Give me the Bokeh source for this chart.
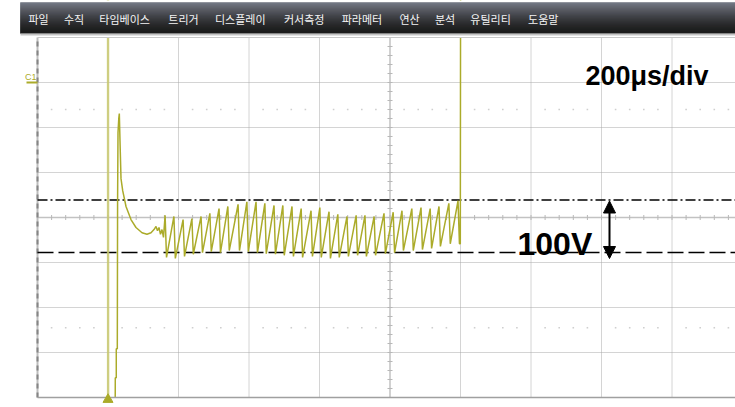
import numpy as np
from bokeh.plotting import figure
from bokeh.models import Range1d, Label, Arrow, NormalHead
from bokeh.core.properties import value
from bokeh.embed import file_html
from bokeh.resources import INLINE

# ---------------- data ----------------
menu_labels = ["파일", "수직", "타임베이스", "트리거", "디스플레이", "커서측정",
               "파라메터", "연산", "분석", "유틸리티", "도움말"]

time_per_div_us = 200          # 200 µs/div
volts_per_div = 85.7           # 100 V marker spans ~1.17 div
time_div_lines = [-200, 0, 200, 400, 600, 800, 1000, 1200, 1400, 1600, 1800]
volt_div_index = [-4, -3, -2, -1, 0, 1, 2, 3, 4]

# pre-trigger: trace above screen, falls through at the trigger instant
pre_t = [-300, 0, 0.4, 19]
pre_v = [600, 600, -600, -600]

# recovery, overshoot and decay after the trigger
ring_t = [19, 20.7, 23.5, 23.5, 26.4, 27.2, 28.4, 30.6, 32.1, 34.0, 36.9, 41.7,
          51.1, 65.2, 79.4, 96.5, 110.6, 122.0, 130.5, 136.2, 140.4, 144.7,
          148.9, 153.2, 157.4]
ring_v = [-600, -305, -305, -250, -250, 32, 162, 189, 198, 147, 74, 51,
          21, -4, -19, -29, -32, -29, -23, -17, -25, -19, -32, -23, -38]

# sawtooth ripple: tooth peaks (µs, V) and the low after each drop (V)
peak_t = [162, 187, 213, 238, 264, 289, 315, 340, 369, 394, 420, 445, 471, 496,
          522, 548, 576, 601, 627, 652, 678, 704, 729, 755, 783, 809, 834, 862,
          888, 914, 939, 967, 993]
peak_v = [4, 2, -4, -2, 2, 8, 17, 21, 25, 30, 30, 27, 23, 23, 21, 17, 13, 19,
          11, 6, 2, 4, 4, 2, 8, 10, 13, 17, 19, 17, 21, 27, 32]
trough_v = [-76, -78, -74, -70, -67, -65, -67, -63, -63, -65, -67, -69, -70,
            -72, -74, -76, -74, -76, -78, -76, -74, -72, -74, -72, -69, -67,
            -63, -63, -61, -59, -55, -50, -50]
drop_us = 4

# end of burst: trace leaves the top of the screen
end_t = [999.5, 1000.5, 2100]
end_v = [-50, 600, 600]

marker_hi_v = 33.3      # dash-dot cursor
marker_lo_v = -66.7     # dashed cursor (100 V below)
c1_offset_v = 257       # channel 1 ground marker

# ---------------- layout helpers (pixel -> data) ----------------
W, H = 735, 407
X0_PX, Y0_PX = 107.5, 217.0
PX_DIV_X, PX_DIV_Y = 70.5, 45.0


def tx(px):
    return (px - X0_PX) / PX_DIV_X * time_per_div_us


def vy(py):
    return (Y0_PX - py) / PX_DIV_Y * volts_per_div


V_PER_PX = volts_per_div / PX_DIV_Y
T_PER_PX = time_per_div_us / PX_DIV_X

OLIVE = "#abab2a"

p = figure(width=W, height=H, x_range=Range1d(tx(0), tx(W)),
           y_range=Range1d(vy(H), vy(0)), output_backend="svg",
           toolbar_location=None, x_axis_type=None, y_axis_type=None,
           min_border=0, outline_line_color=None,
           background_fill_color="white", border_fill_color="white")
p.grid.grid_line_color = None

v_top = volt_div_index[-1] * volts_per_div
v_bot = volt_div_index[0] * volts_per_div
t_left = time_div_lines[0]
t_far = tx(W + 20)
center_t = time_div_lines[len(time_div_lines) // 2]

# ---- graticule ----
dot_t = [t for t in time_div_lines[1:] if t != center_t]
p.segment(x0=dot_t, x1=dot_t, y0=[v_bot] * len(dot_t), y1=[v_top] * len(dot_t),
          line_color="#a9a9a9", line_width=1, line_dash="1 1")
dot_v = [k * volts_per_div for k in volt_div_index[1:-1] if k != 0]
p.segment(x0=[t_left] * len(dot_v), x1=[t_far] * len(dot_v), y0=dot_v, y1=dot_v,
          line_color="#a9a9a9", line_width=1, line_dash="1 1")

# faint sub-division dot rows
sub_t = [t_left + k * time_per_div_us / 5 for k in range(1, 60) if k % 5 != 0]
for rv in (2.4 * volts_per_div, -2.45 * volts_per_div):
    p.scatter(sub_t, [rv] * len(sub_t), marker="square", size=1.6,
              fill_color="#cfcfcf", line_color=None)

# centre cross with minor ticks
p.segment(x0=[t_left], x1=[t_far], y0=[0], y1=[0], line_color="#c2c2c2", line_width=1.5)
p.segment(x0=[center_t], x1=[center_t], y0=[v_bot], y1=[v_top], line_color="#c2c2c2", line_width=1.5)
tick_t = [t_left + k * time_per_div_us / 5 for k in range(1, 60)]
p.segment(x0=tick_t, x1=tick_t, y0=[-2.5 * V_PER_PX] * len(tick_t),
          y1=[2.5 * V_PER_PX] * len(tick_t), line_color="#b8b8b8", line_width=1)
tick_v = [k * volts_per_div / 5 for k in range(-19, 20)]
p.segment(x0=[center_t - 2.5 * T_PER_PX] * len(tick_v),
          x1=[center_t + 2.5 * T_PER_PX] * len(tick_v), y0=tick_v, y1=tick_v,
          line_color="#b8b8b8", line_width=1)

# left border
p.segment(x0=[t_left], x1=[t_left], y0=[v_bot], y1=[v_top], line_color="#bdbdbd", line_width=2)
p.segment(x0=[t_left], x1=[t_left], y0=[v_bot], y1=[v_top], line_color="#858585",
          line_width=2, line_dash="5 4")

# ---- cursors ----
p.segment(x0=[t_left], x1=[t_far], y0=[marker_hi_v], y1=[marker_hi_v],
          line_color="black", line_width=1.3, line_dash="10 3 2 3")
p.segment(x0=[t_left], x1=[t_far], y0=[marker_lo_v], y1=[marker_lo_v],
          line_color="black", line_width=1.3, line_dash="16 5")

# ---- trace ----
tooth_t, tooth_v = [], []
for pt, pv, tv in zip(peak_t, peak_v, trough_v):
    tooth_t += [pt, pt + drop_us]
    tooth_v += [pv, tv]
trace_t = ring_t + tooth_t + end_t
trace_v = ring_v + tooth_v + end_v

p.line(pre_t, pre_v, line_color="#c9c96e", line_width=2.4, line_alpha=0.85)
p.line(trace_t, trace_v, line_color=OLIVE, line_width=1.5)

# mask the trace outside the graticule (scope screen clipping)
p.quad(left=[tx(0)], right=[tx(W + 20)], top=[v_bot - 0.5 * V_PER_PX], bottom=[vy(H + 20)],
       fill_color="white", line_color=None)
p.quad(left=[tx(0)], right=[tx(W + 20)], top=[vy(0)], bottom=[v_top + 0.5 * V_PER_PX],
       fill_color="white", line_color=None)

# top / bottom borders
p.segment(x0=[t_left], x1=[t_far], y0=[v_top], y1=[v_top], line_color="#c8c8c8", line_width=1.2)
p.segment(x0=[t_left], x1=[t_far], y0=[v_bot], y1=[v_bot], line_color="#a0a0a0", line_width=1.6)

# ---- menu bar (vertical gradient via thin strips) ----
c_top = np.array([0x6c, 0x71, 0x7e])
c_bot = np.array([0x0c, 0x0c, 0x0c])
bar_top, bar_bot = 2, 33
n_strip = bar_bot - bar_top
lefts, rights, tops, bottoms, cols = [], [], [], [], []
for i in range(n_strip):
    f = i / (n_strip - 1)
    g = 1 - (1 - f) ** 1.4
    c = (c_top * (1 - g) + c_bot * g).astype(int)
    cols.append("#%02x%02x%02x" % tuple(c))
    lefts.append(tx(20)); rights.append(tx(W + 20))
    tops.append(vy(bar_top + i)); bottoms.append(vy(bar_top + i + 1))
p.quad(left=lefts, right=rights, top=tops, bottom=bottoms,
       fill_color=cols, line_color=cols, line_width=0.5)
p.quad(left=[tx(20)], right=[tx(W + 20)], top=[vy(33)], bottom=[vy(35)],
       fill_color="#c4c4c4", line_color=None)

# menu labels laid out by character count
char_w, gap = 11.2, 13.0
xs, cur = [], 28.0
for lab in menu_labels:
    xs.append(tx(cur))
    cur += len(lab) * char_w + gap
p.text(x=xs, y=[vy(18)] * len(menu_labels), text=menu_labels,
       text_font=value("Noto Sans CJK KR"), text_font_size="11px",
       text_color="#f4f4f4", text_baseline="middle", text_align="left")

# trigger position marker and channel marker
p.scatter([0], [vy(399)], marker="triangle", size=10, fill_color=OLIVE, line_color=OLIVE)
p.segment(x0=[tx(26)], x1=[t_left], y0=[c1_offset_v], y1=[c1_offset_v],
          line_color=OLIVE, line_width=2)
p.add_layout(Label(x=tx(24.5), y=c1_offset_v + 6 * V_PER_PX, text="C1",
                   text_font="Liberation Sans", text_font_size="9px",
                   text_color=OLIVE, text_baseline="middle"))

# ---- annotations ----
arrow_t = tx(609)
p.add_layout(Arrow(start=NormalHead(size=12, fill_color="black", line_color="black"),
                   end=NormalHead(size=12, fill_color="black", line_color="black"),
                   x_start=arrow_t, y_start=marker_hi_v - 1 * V_PER_PX,
                   x_end=arrow_t, y_end=marker_lo_v - 6 * V_PER_PX,
                   line_color="black", line_width=2))
p.add_layout(Label(x=tx(517), y=vy(243), text="100V", text_font="Liberation Sans",
                   text_font_style="bold", text_font_size="32px",
                   text_color="black", text_baseline="alphabetic"))
p.add_layout(Label(x=tx(585), y=vy(75), text="200μs/div", text_font="Liberation Sans",
                   text_font_style="bold", text_font_size="27px",
                   text_color="black", text_baseline="alphabetic"))

open("out.html", "w").write(file_html(p, INLINE))
